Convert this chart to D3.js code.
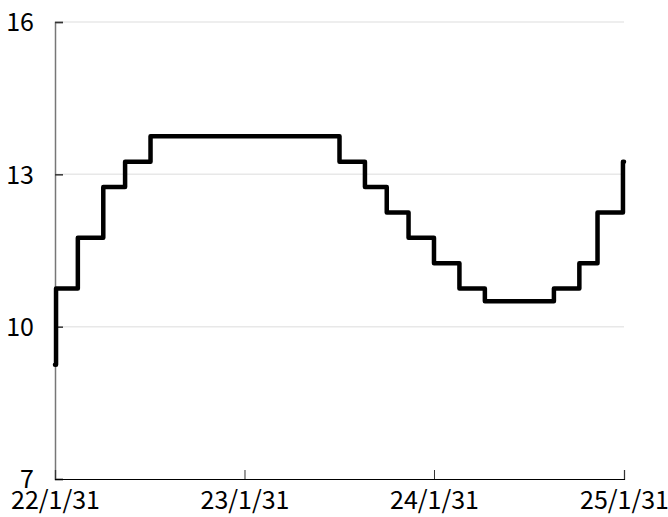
<!DOCTYPE html>
<html>
<head>
<meta charset="utf-8">
<script src="https://cdn.jsdelivr.net/npm/d3@7"></script>
<style>
  body { margin: 0; background: #fff; }
  text { font-family: "Noto Sans CJK JP", "DejaVu Sans", sans-serif; }
</style>
</head>
<body>
<script>
// step dates (rate change) and the rate from that date on
var dates = ["2022-01-31", "2022-02-02", "2022-03-16", "2022-05-04", "2022-06-15", "2022-08-03",
             "2023-08-02", "2023-09-20", "2023-11-01", "2023-12-13", "2024-01-31", "2024-03-20",
             "2024-05-08", "2024-09-18", "2024-11-06", "2024-12-11", "2025-01-29", "2025-01-31"];
var rates = [9.25, 10.75, 11.75, 12.75, 13.25, 13.75,
             13.25, 12.75, 12.25, 11.75, 11.25, 10.75,
             10.5, 10.75, 11.25, 12.25, 13.25, 13.25];
var yTicks = [7, 10, 13, 16];
var xTicks = ["2022-01-31", "2023-01-31", "2024-01-31", "2025-01-31"];
var xTickLabels = ["22/1/31", "23/1/31", "24/1/31", "25/1/31"];

var margin = {top: 22, right: 44, bottom: 38, left: 55},
    width = 668 - margin.left - margin.right,
    height = 517 - margin.top - margin.bottom;

var parse = d3.timeParse("%Y-%m-%d");
var data = dates.map(function(d, i) { return {date: parse(d), value: rates[i]}; });

var svg = d3.select("body").append("svg")
    .attr("width", 668)
    .attr("height", 517)
  .append("g")
    .attr("transform", "translate(" + margin.left + "," + margin.top + ")");

var x = d3.scaleTime()
    .domain([parse(xTicks[0]), parse(xTicks[xTicks.length - 1])])
    .range([0, width]);

var y = d3.scaleLinear()
    .domain([7, 16])
    .range([height, 0]);

// grid lines
svg.append("g")
    .selectAll("line")
    .data(yTicks.slice(1))
  .enter().append("line")
    .attr("x1", 0)
    .attr("x2", width)
    .attr("y1", function(d) { return y(d); })
    .attr("y2", function(d) { return y(d); })
    .attr("stroke", "#e8e8e8")
    .attr("stroke-width", 1.5);

// y axis
var yAxis = svg.append("g")
    .call(d3.axisLeft(y).tickValues(yTicks).tickSize(-8).tickPadding(21));
yAxis.select(".domain").attr("stroke", "#777").attr("stroke-width", 1.5);
yAxis.selectAll(".tick line").attr("stroke", "#333").attr("stroke-width", 1.5);
yAxis.selectAll("text")
    .attr("fill", "#000")
    .style("font-size", "25px")
    .attr("dy", "0.35em");

// x axis
var xAxis = svg.append("g")
    .attr("transform", "translate(0," + height + ")")
    .call(d3.axisBottom(x)
      .tickValues(xTicks.map(parse))
      .tickFormat(function(d, i) { return xTickLabels[i]; })
      .tickSize(-9)
      .tickPadding(12));
xAxis.select(".domain").attr("stroke", "#000").attr("stroke-width", 1.2);
xAxis.selectAll(".tick line").attr("stroke", "#333").attr("stroke-width", 1);
xAxis.selectAll("text")
    .attr("fill", "#000")
    .style("font-size", "25px");

// step line
var line = d3.line()
    .curve(d3.curveStepAfter)
    .x(function(d) { return x(d.date); })
    .y(function(d) { return y(d.value); });

svg.append("path")
    .datum(data)
    .attr("fill", "none")
    .attr("stroke", "#000")
    .attr("stroke-width", 4.5)
    .attr("stroke-linejoin", "round")
    .attr("stroke-linecap", "round")
    .attr("d", line);
</script>
</body>
</html>
